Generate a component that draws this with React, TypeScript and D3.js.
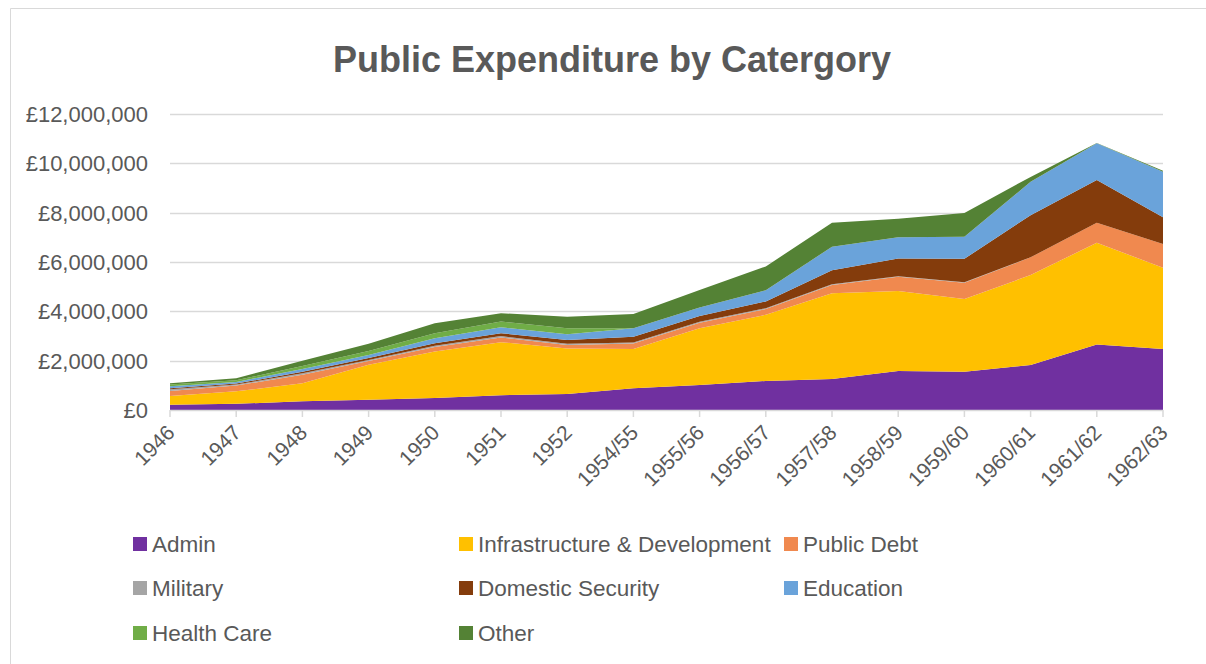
import React from "react";
import * as d3 from "d3";

const categories = ["1946","1947","1948","1949","1950","1951","1952","1954/55","1955/56","1956/57","1957/58","1958/59","1959/60","1960/61","1961/62","1962/63"];

const admin =     [210000,250000,350000,420000,490000,600000,650000,880000,1010000,1180000,1260000,1580000,1550000,1820000,2660000,2470000];
const infra =     [360000,510000,730000,1410000,1880000,2150000,1840000,1590000,2300000,2680000,3470000,3240000,2950000,3650000,4120000,3300000];
const publicDebt =[200000,230000,350000,160000,180000,190000,150000,230000,230000,230000,340000,580000,660000,720000,810000,960000];
const military =  [70000,40000,60000,40000,50000,55000,50000,40000,40000,40000,30000,20000,20000,0,0,0];
const domestic =  [40000,40000,65000,80000,110000,120000,150000,230000,230000,270000,570000,720000,950000,1710000,1730000,1080000];
const education = [80000,65000,110000,120000,200000,240000,235000,340000,350000,450000,950000,860000,890000,1350000,1490000,1850000];
const health =    [70000,70000,120000,160000,200000,230000,240000,0,0,0,0,0,0,0,0,0];
const other =     [50000,80000,215000,300000,410000,340000,470000,580000,700000,970000,970000,750000,970000,200000,10000,40000];

const seriesNames = ["Admin","Infrastructure & Development","Public Debt","Military","Domestic Security","Education","Health Care","Other"];
const seriesValues = [admin, infra, publicDebt, military, domestic, education, health, other];
const seriesColors = ["#7030A0","#FFC000","#F0894F","#A5A5A5","#843C0C","#6AA3DA","#70AD47","#548235"];
const yTicks = [0,2000000,4000000,6000000,8000000,10000000,12000000];

const FONT = "'Liberation Sans', Arial, sans-serif";
const TEXT = "#595959";

export default function App() {
  const W = 1206, H = 664;
  const x = d3.scalePoint<string>().domain(categories).range([170, 1163]);
  const y = d3.scaleLinear().domain([0, 12000000]).range([410, 114]);

  const keys = seriesNames;
  const table = categories.map((c, i) => {
    const row: any = { cat: c };
    keys.forEach((k, j) => (row[k] = seriesValues[j][i]));
    return row;
  });
  const stacked = d3.stack<any>().keys(keys)(table);
  const area = d3
    .area<any>()
    .x((d) => x(d.data.cat) as number)
    .y0((d) => y(d[0]))
    .y1((d) => y(d[1]))
    .curve(d3.curveLinear);

  const fmt = d3.format(",");
  const legendCols = [133, 459, 784];
  const legendRows = [544, 588, 633];

  return (
    <div style={{ position: "absolute", left: 0, top: 0, width: W, height: H, background: "#fff" }}>
      <svg width={W} height={H} style={{ display: "block" }}>
        <rect x={0} y={0} width={W} height={H} fill="#fff" />
        <line x1={10.5} y1={8.5} x2={W} y2={8.5} stroke="#D9D9D9" strokeWidth={1} />
        <line x1={10.5} y1={8.5} x2={10.5} y2={H} stroke="#D9D9D9" strokeWidth={1} />
        <text x={612} y={72} textAnchor="middle" fontFamily={FONT} fontWeight="bold" fontSize={36} fill={TEXT}>
          Public Expenditure by Catergory
        </text>
        {yTicks.map((t) => (
          <g key={t}>
            {t > 0 && (
              <line x1={170} x2={1163} y1={Math.round(y(t)) + 0.5} y2={Math.round(y(t)) + 0.5} stroke="#D9D9D9" strokeWidth={1.3} />
            )}
            <text x={148} y={y(t)} dy="0.36em" textAnchor="end" fontFamily={FONT} fontSize={22} fill={TEXT}>
              {"£" + fmt(t)}
            </text>
          </g>
        ))}
        {stacked.map((s, i) => (
          <path key={s.key} d={area(s) || ""} fill={seriesColors[i]} />
        ))}
        <line x1={170} x2={1163} y1={410.5} y2={410.5} stroke="#D9D9D9" strokeWidth={1.5} />
        {categories.map((c) => (
          <g key={c}>
            <line x1={x(c)} x2={x(c)} y1={410} y2={417} stroke="#D9D9D9" strokeWidth={1.5} />
            <text
              transform={`translate(${(x(c) as number) + 6},${434}) rotate(-45)`}
              textAnchor="end"
              fontFamily={FONT}
              fontSize={21}
              fill={TEXT}
            >
              {c}
            </text>
          </g>
        ))}
        {seriesNames.map((n, i) => {
          const col = i % 3;
          const row = Math.floor(i / 3);
          const lx = legendCols[col];
          const ly = legendRows[row];
          return (
            <g key={n}>
              <rect x={lx} y={ly - 7} width={14} height={14} fill={seriesColors[i]} />
              <text x={lx + 19} y={ly} dy="0.36em" fontFamily={FONT} fontSize={22.5} fill={TEXT}>
                {n}
              </text>
            </g>
          );
        })}
      </svg>
    </div>
  );
}
